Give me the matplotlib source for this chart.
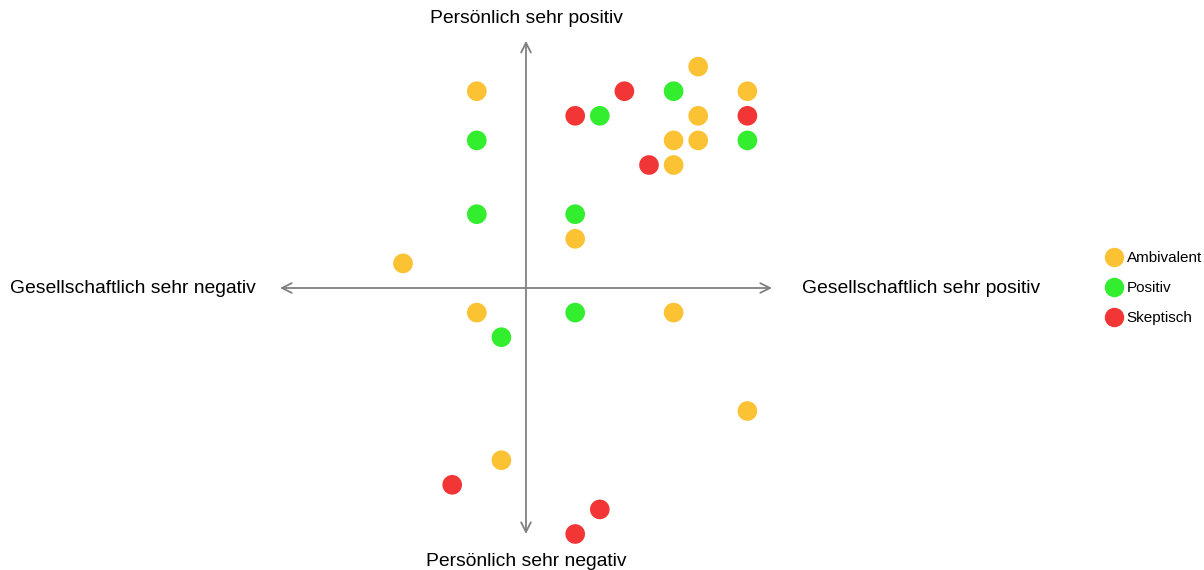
import matplotlib.pyplot as plt
from matplotlib.lines import Line2D

plt.rcParams['font.family'] = ['Liberation Sans', 'DejaVu Sans']

categories = ["Ambivalent", "Positiv", "Skeptisch"]
colors = ["#FBC234", "#33EE2E", "#F23535"]

amb_x = [7, -2, 9, 7, 6, 7, 6, 2, -5, -2, 6, 9, -1]
amb_y = [9, 8, 8, 7, 6, 6, 5, 2, 1, -1, -1, -5, -7]
pos_x = [6, 3, -2, 9, -2, 2, 2, -1]
pos_y = [8, 7, 6, 6, 3, 3, -1, -2]
skp_x = [4, 2, 9, 5, -3, 3, 2]
skp_y = [8, 7, 7, 5, -8, -9, -10]

series = [(amb_x, amb_y), (pos_x, pos_y), (skp_x, skp_y)]

W, H = 1204, 570
fig = plt.figure(figsize=(W/100, H/100), dpi=100)
ax = fig.add_axes([0, 0, 1, 1])
u = 24.6
cx, cy = 526, 288
ax.set_xlim(-cx/u, (W-cx)/u)
ax.set_ylim((cy-H)/u, cy/u)
ax.axis('off')

arrow_kw = dict(arrowstyle='<->,head_length=0.7,head_width=0.35', color='#808080', lw=1.3,
                shrinkA=0, shrinkB=0)
ax.annotate('', xy=(-10, 0), xytext=(10, 0), arrowprops=arrow_kw)
ax.annotate('', xy=(0, -10), xytext=(0, 10.05), arrowprops=arrow_kw)

for (xs, ys), c in zip(series, colors):
    ax.scatter(xs, ys, s=200, color=c, edgecolors='none', zorder=3)

fs = 13.9
ax.text(0, 10.95, "Persönlich sehr positiv", ha='center', va='center', fontsize=fs)
ax.text(0, -11.1, "Persönlich sehr negativ", ha='center', va='center', fontsize=fs)
ax.text(-11.0, -0.02, "Gesellschaftlich sehr negativ", ha='right', va='center', fontsize=fs)
ax.text(11.2, -0.02, "Gesellschaftlich sehr positiv", ha='left', va='center', fontsize=fs)

handles = [Line2D([0], [0], marker='o', linestyle='none', markersize=14,
                  markerfacecolor=c, markeredgecolor='none') for c in colors]
ax.legend(handles, categories, loc='center left', bbox_to_anchor=(1100/W, 1-288/H),
          frameon=False, fontsize=11, handletextpad=0.35, labelspacing=1.05,
          handlelength=1.0, borderaxespad=0)

fig.savefig('out.png', dpi=100)
